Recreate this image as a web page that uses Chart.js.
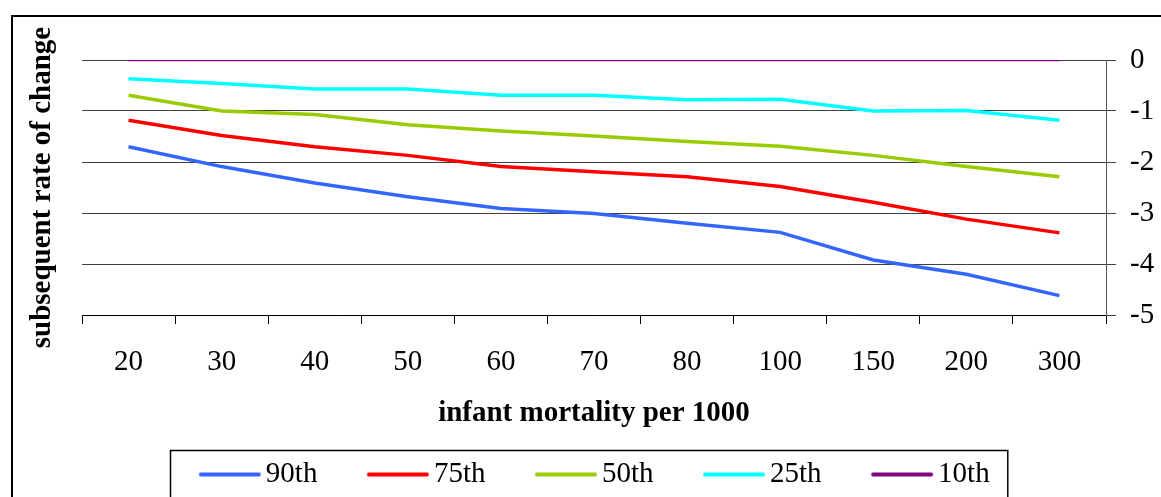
<!DOCTYPE html>
<html>
<head>
<meta charset="utf-8">
<script src="https://cdn.jsdelivr.net/npm/chart.js@4/dist/chart.umd.min.js"></script>
<style>
  html, body { margin: 0; padding: 0; background: #fff; overflow: hidden; }
  #wrap { position: relative; width: 1161px; height: 497px; }
  #frame { position: absolute; left: 11px; top: 15px; width: 1300px; height: 700px; border: 2px solid #000; box-sizing: border-box; }
  #cv { position: absolute; left: 0; top: 0; }
</style>
</head>
<body>
<div id="wrap">
  <div id="frame"></div>
  <canvas id="cv" width="1161" height="497"></canvas>
</div>
<script>
const categories = ['20', '30', '40', '50', '60', '70', '80', '100', '150', '200', '300'];
const p90 = [-1.70, -2.09, -2.41, -2.68, -2.91, -3.01, -3.20, -3.38, -3.92, -4.20, -4.62];
const p75 = [-1.18, -1.48, -1.70, -1.87, -2.09, -2.19, -2.29, -2.48, -2.79, -3.12, -3.39];
const p50 = [-0.69, -1.00, -1.07, -1.27, -1.39, -1.49, -1.60, -1.69, -1.87, -2.09, -2.29];
const p25 = [-0.37, -0.46, -0.57, -0.57, -0.69, -0.69, -0.78, -0.77, -1.00, -0.99, -1.18];
const p10 = [0, 0, 0, 0, 0, 0, 0, 0, 0, 0, 0];
const seriesNames = ['90th', '75th', '50th', '25th', '10th'];
const seriesColors = ['#3366FF', '#FF0000', '#99CC00', '#00FFFF', '#800080'];
const yTicks = [0, -1, -2, -3, -4, -5];
const xTitle = 'infant mortality per 1000';
const yTitle = 'subsequent rate of change';

const seriesData = [p90, p75, p50, p25, p10];
const FONT = 'Liberation Serif';
const FS = 29;

// legend line sample images
const legendImgs = seriesColors.map(c => {
  const cv = document.createElement('canvas');
  cv.width = 120; cv.height = 6;
  const g = cv.getContext('2d');
  g.strokeStyle = c; g.lineWidth = 4; g.lineCap = 'round';
  g.beginPath(); g.moveTo(36, 3); g.lineTo(94, 3); g.stroke();
  return cv;
});

const legendBox = {
  id: 'legendBox',
  afterDraw(chart) {
    const lg = chart.legend;
    if (!lg || !lg.legendHitBoxes || !lg.legendHitBoxes.length) return;
    const hb = lg.legendHitBoxes;
    const first = hb[0], last = hb[hb.length - 1];
    const cy = first.top + first.height / 2;
    const left = first.left - 28;
    const right = last.left + last.width + 18;
    const top = cy - 25;
    const ctx = chart.ctx;
    ctx.save();
    ctx.strokeStyle = '#000';
    ctx.lineWidth = 1.5;
    ctx.strokeRect(Math.round(left) + 0.5, Math.round(top) + 0.5, right - left, 100);
    ctx.restore();
  }
};

new Chart(document.getElementById('cv'), {
  type: 'line',
  data: {
    labels: categories,
    datasets: seriesData.map((d, i) => ({
      label: seriesNames[i],
      data: d,
      borderColor: seriesColors[i],
      backgroundColor: seriesColors[i],
      borderWidth: i === 4 ? 2.5 : 3.5,
      pointRadius: 0,
      tension: 0,
      fill: false,
      yAxisID: 'y',
      xAxisID: 'x'
    }))
  },
  options: {
    responsive: false,
    animation: false,
    devicePixelRatio: 1,
    layout: { padding: { top: 60, left: 0, right: 0, bottom: -2 } },
    plugins: {
      tooltip: { enabled: false },
      legend: {
        position: 'bottom',
        fullSize: false,
        labels: {
          usePointStyle: true,
          pointStyleWidth: 53,
          padding: 49,
          color: '#000',
          font: { family: FONT, size: FS },
          generateLabels(chart) {
            const items = Chart.defaults.plugins.legend.labels.generateLabels(chart);
            items.forEach((it, i) => { it.pointStyle = legendImgs[i]; });
            return items;
          }
        }
      }
    },
    scales: {
      x: {
        type: 'category',
        offset: true,
        grid: { offset: true, drawOnChartArea: false, drawTicks: true, tickLength: 9, color: '#000' },
        border: { display: true, color: '#000', width: 1 },
        ticks: { color: '#000', font: { family: FONT, size: FS }, padding: 21, maxRotation: 0, autoSkip: false },
        title: { display: true, text: xTitle, color: '#000', font: { family: FONT, size: FS, weight: 'bold' }, padding: { top: 0, bottom: -20 } },
        afterFit(s) { s.height = 96; }
      },
      y: {
        type: 'linear',
        position: 'right',
        min: -5,
        max: 0,
        afterBuildTicks(s) { s.ticks = yTicks.map(v => ({ value: v })); },
        grid: { color: '#404040', tickLength: 10, drawTicks: true },
        border: { display: true, color: '#555', width: 1 },
        ticks: { color: '#000', font: { family: FONT, size: FS }, padding: 14 },
        afterFit(s) { s.width = 55; }
      },
      yT: {
        type: 'linear',
        axis: 'y',
        position: 'left',
        min: -5,
        max: 0,
        ticks: { display: false },
        grid: { display: false },
        border: { display: false },
        title: { display: true, text: yTitle, color: '#000', font: { family: FONT, size: FS, weight: 'bold' }, padding: { top: 25, bottom: 0 } },
        afterFit(s) { s.width = 82; }
      }
    }
  },
  plugins: [legendBox]
});
</script>
</body>
</html>
